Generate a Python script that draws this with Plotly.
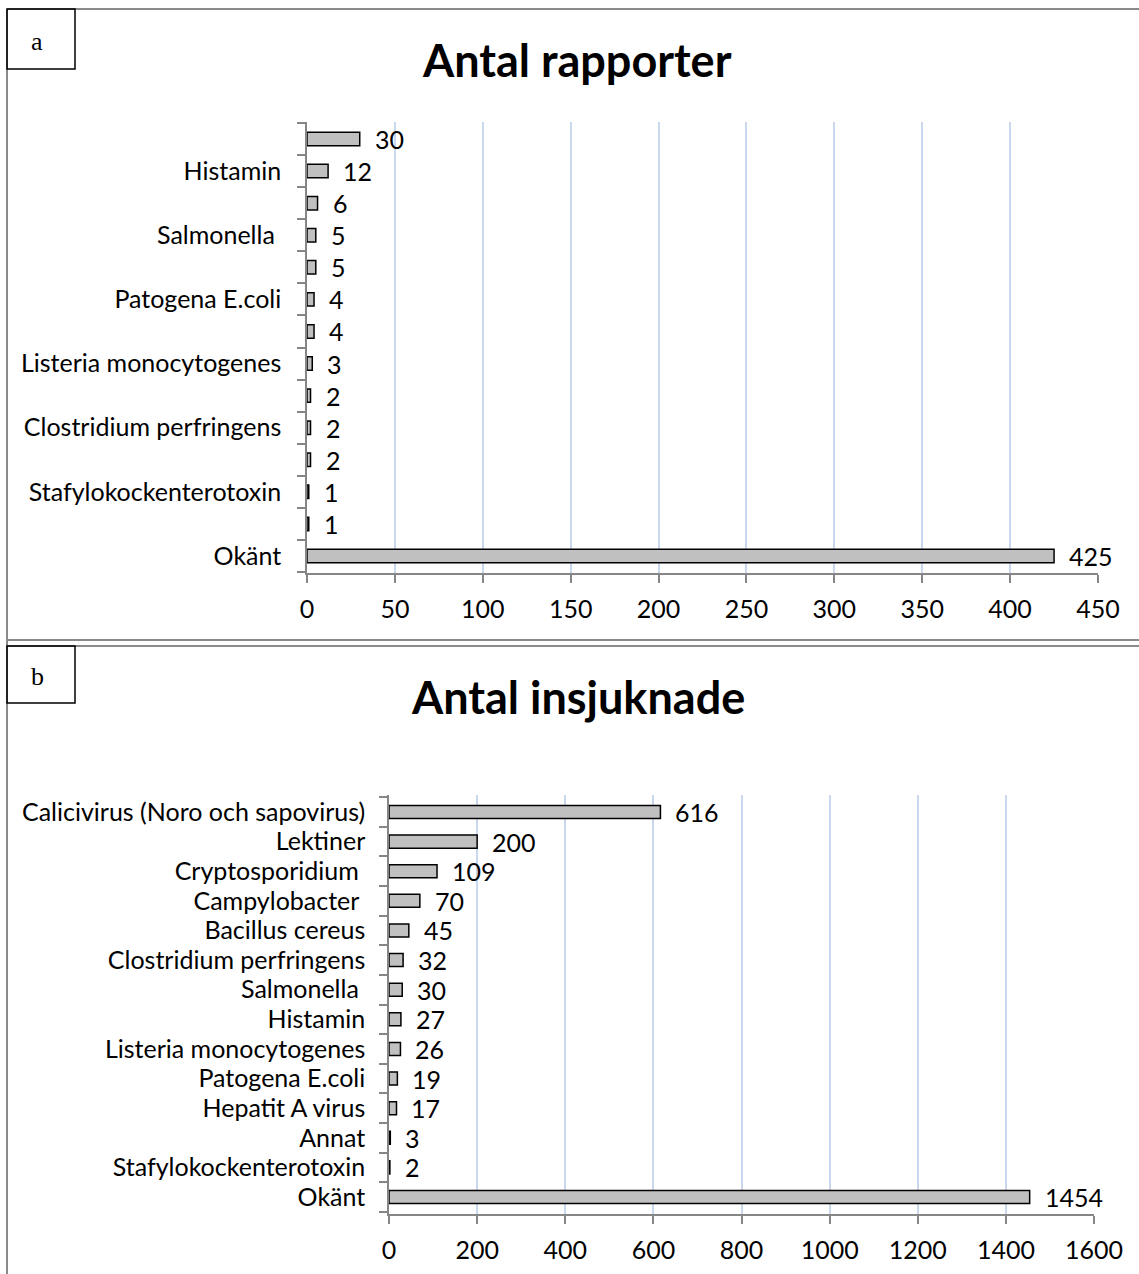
import plotly.graph_objects as go

# ---------------- data ----------------
rapporter_categories = [
    "Calicivirus (Noro och sapovirus)", "Histamin", "Campylobacter", "Salmonella\u00a0",
    "Bacillus cereus", "Patogena E.coli", "Lektiner", "Listeria monocytogenes",
    "Cryptosporidium", "Clostridium perfringens", "Hepatit A virus",
    "Stafylokockenterotoxin", "Annat", "Okänt",
]
rapporter_values = [30, 12, 6, 5, 5, 4, 4, 3, 2, 2, 2, 1, 1, 425]
# Excel only showed every second category label
rapporter_ticktext = [c if i % 2 == 1 else "" for i, c in enumerate(rapporter_categories)]
rapporter_xticks = [0, 50, 100, 150, 200, 250, 300, 350, 400, 450]

insjuknade_categories = [
    "Calicivirus (Noro och sapovirus)", "Lektiner", "Cryptosporidium\u00a0", "Campylobacter\u00a0",
    "Bacillus cereus", "Clostridium perfringens", "Salmonella\u00a0", "Histamin",
    "Listeria monocytogenes", "Patogena E.coli", "Hepatit A virus", "Annat",
    "Stafylokockenterotoxin", "Okänt",
]
insjuknade_values = [616, 200, 109, 70, 45, 32, 30, 27, 26, 19, 17, 3, 2, 1454]
insjuknade_xticks = [0, 200, 400, 600, 800, 1000, 1200, 1400, 1600]

W, H = 1139, 1274
FONT = "Lato"
AXIS_GRAY = "#868686"
GRID = "#c9d7ef"

def px(x):
    return x / W

def py(y):
    return 1 - y / H

fig = go.Figure()

fig.add_trace(go.Bar(
    x=rapporter_values, y=rapporter_categories, orientation="h",
    marker=dict(color="#c0c0c0", line=dict(color="black", width=1.5)),
    width=0.42, xaxis="x", yaxis="y", showlegend=False, hoverinfo="x+y",
))
fig.add_trace(go.Bar(
    x=insjuknade_values, y=insjuknade_categories, orientation="h",
    marker=dict(color="#c0c0c0", line=dict(color="black", width=1.5)),
    width=0.44, xaxis="x2", yaxis="y2", showlegend=False, hoverinfo="x+y",
))

labelfont = dict(family=FONT, size=25, color="black")
annotations = []
for v, c in zip(rapporter_values, rapporter_categories):
    annotations.append(dict(x=v, y=c, xref="x", yref="y", text=str(v), showarrow=False,
                            xanchor="left", yanchor="middle", xshift=13, font=labelfont))
for v, c in zip(insjuknade_values, insjuknade_categories):
    annotations.append(dict(x=v, y=c, xref="x2", yref="y2", text=str(v), showarrow=False,
                            xanchor="left", yanchor="middle", xshift=13, font=labelfont))

# titles
annotations.append(dict(x=px(577), y=py(60), xref="paper", yref="paper", text="<b>Antal rapporter</b>",
                        showarrow=False, xanchor="center", yanchor="middle",
                        font=dict(family=FONT, size=45, color="black")))
annotations.append(dict(x=px(578), y=py(697), xref="paper", yref="paper", text="<b>Antal insjuknade</b>",
                        showarrow=False, xanchor="center", yanchor="middle",
                        font=dict(family=FONT, size=45, color="black")))
# panel letters
annotations.append(dict(x=px(37), y=py(41), xref="paper", yref="paper", text="a",
                        showarrow=False, xanchor="center", yanchor="middle",
                        font=dict(family="Liberation Serif", size=26, color="black")))
annotations.append(dict(x=px(37), y=py(676), xref="paper", yref="paper", text="b",
                        showarrow=False, xanchor="center", yanchor="middle",
                        font=dict(family="Liberation Serif", size=26, color="black")))

frame = dict(color="#8a8a8a", width=2)
shapes = [
    dict(type="line", xref="paper", yref="paper", x0=px(7), x1=1, y0=py(9), y1=py(9), line=frame),
    dict(type="line", xref="paper", yref="paper", x0=px(7), x1=px(7), y0=py(9), y1=0, line=frame),
    dict(type="line", xref="paper", yref="paper", x0=px(7), x1=1, y0=py(640), y1=py(640), line=frame),
    dict(type="line", xref="paper", yref="paper", x0=px(7), x1=1, y0=py(646), y1=py(646), line=frame),
    dict(type="rect", xref="paper", yref="paper", x0=px(7), x1=px(75), y0=py(9), y1=py(69),
         line=dict(color="black", width=1.5)),
    dict(type="rect", xref="paper", yref="paper", x0=px(7), x1=px(75), y0=py(646), y1=py(703),
         line=dict(color="black", width=1.5)),
]

tickfont = dict(family=FONT, size=25, color="black")

common_axis = dict(showline=True, linecolor=AXIS_GRAY, linewidth=1.5,
                   ticks="outside", ticklen=8, tickcolor=AXIS_GRAY, tickwidth=1.5,
                   tickfont=tickfont, fixedrange=True, automargin=False)

fig.update_layout(
    width=W, height=H, autosize=False,
    margin=dict(l=0, r=0, t=0, b=0, pad=0, autoexpand=False),
    paper_bgcolor="white", plot_bgcolor="white", showlegend=False,
    annotations=annotations, shapes=shapes,
    xaxis=dict(domain=[px(307), px(1098)], range=[0, 450], tickmode="array",
               tickvals=rapporter_xticks, showgrid=True, gridcolor=GRID, gridwidth=1.5,
               zeroline=False, ticklabelstandoff=5, anchor="y", **common_axis),
    yaxis=dict(domain=[py(573), py(122)], type="category", autorange="reversed",
               tickmode="array", tickvals=rapporter_categories, ticktext=rapporter_ticktext,
               tickson="boundaries", showgrid=False, ticklabelstandoff=19, anchor="x", **common_axis),
    xaxis2=dict(domain=[px(389), px(1094)], range=[0, 1600], tickmode="array",
                tickvals=insjuknade_xticks, showgrid=True, gridcolor=GRID, gridwidth=1.5,
                zeroline=False, ticklabelstandoff=5, anchor="y2", **common_axis),
    yaxis2=dict(domain=[py(1214), py(795)], type="category", autorange="reversed",
                tickmode="array", tickvals=insjuknade_categories, ticktext=insjuknade_categories,
                tickson="boundaries", showgrid=False, ticklabelstandoff=17, anchor="x2", **common_axis),
)

fig.write_html(
    "out.html",
    config={"displayModeBar": False},
    post_script="document.body.style.margin='0';document.body.style.padding='0';"
                "document.documentElement.style.overflow='hidden';",
)
